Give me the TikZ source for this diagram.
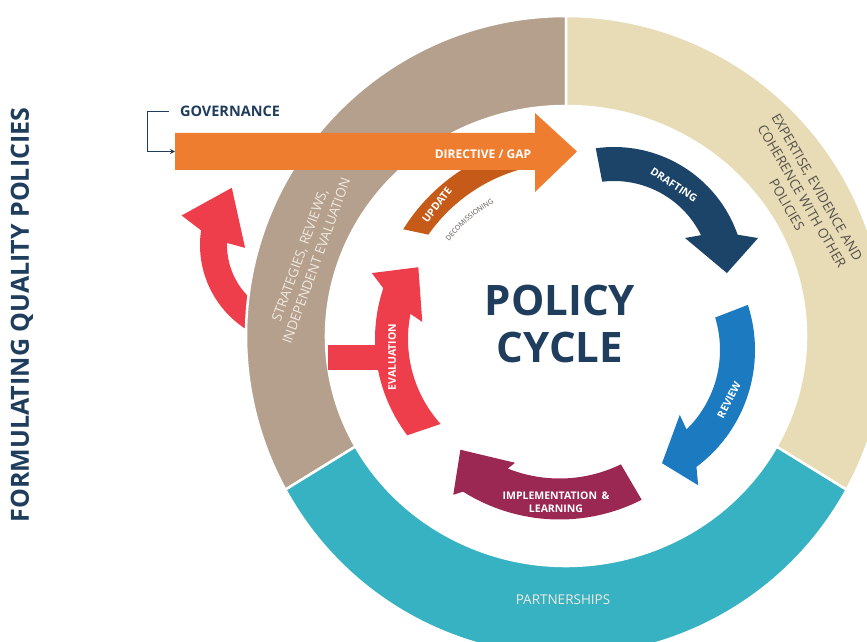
\documentclass[tikz,border=0pt]{standalone}
\usepackage{fontspec}
\setmainfont{Open Sans}
\usepackage{tikz}
\usetikzlibrary{arrows.meta,decorations.text,positioning}

\definecolor{navytxt}{HTML}{1F3D5C}
\definecolor{taupe}{HTML}{B4A08D}
\definecolor{sand}{HTML}{E8DCB6}
\definecolor{tealring}{HTML}{36B2C2}
\definecolor{orangebar}{HTML}{EE7D2F}
\definecolor{rust}{HTML}{C65B19}
\definecolor{navyarrow}{HTML}{1C4468}
\definecolor{bluearrow}{HTML}{1C7AC0}
\definecolor{maroon}{HTML}{9B2852}
\definecolor{redarrow}{HTML}{EE3E4C}
\definecolor{paletxt}{HTML}{F1EADF}
\definecolor{darktxt}{HTML}{55504A}

\begin{document}
\begin{tikzpicture}[
x=1pt, y=1pt,
font=\bfseries,
ring/.style={draw=white, line width=2.5pt},
lbl/.style={text=white, inner sep=0pt, font=\bfseries\fontsize{10.5}{12.5}\selectfont},
ringlbl/.style={inner sep=0pt, align=center, font=\fontsize{13.5}{17.5}\selectfont},
govline/.style={-{Stealth[length=5pt,width=5pt]}, draw=navytxt, line width=0.8pt}
]
    \useasboundingbox (0,0) rectangle (867,641);
    \clip (0,0) rectangle (867,641);

    \coordinate (c) at (566,305);

    % red arrow outside the ring
    \fill[redarrow, shift={(300,396)}] (245:100) arc[start angle=245, end angle=171.6, radius=100]
        -- (166:122) -- (140:89) -- (183:55) -- (178.4:73)
        arc[start angle=178.4, end angle=245, radius=73] -- cycle;

    % the ring
    \filldraw[ring, fill=taupe, shift={(c)}] (90:320) arc[start angle=90, end angle=208.7, radius=320]
        -- (208.7:240 and 230) arc[start angle=208.7, end angle=90, x radius=240, y radius=230] -- cycle;
    \filldraw[ring, fill=tealring, shift={(c)}] (208.7:320) arc[start angle=208.7, end angle=331.3, radius=320]
        -- (331.3:240 and 230) arc[start angle=331.3, end angle=208.7, x radius=240, y radius=230] -- cycle;
    \filldraw[ring, fill=sand, shift={(c)}] (-28.7:320) arc[start angle=-28.7, end angle=90, radius=320]
        -- (90:240 and 230) arc[start angle=90, end angle=-28.7, x radius=240, y radius=230] -- cycle;

    % update, under the bar
    \fill[rust, shift={(566,310)}] (148:192) arc[start angle=148, end angle=100, radius=192]
        -- (100:168) arc[start angle=100, end angle=145, radius=168] -- cycle;

    % directive / gap bar
    \fill[orangebar] (175,471) -- (535,471) -- (535,449) -- (577,489.5)
        -- (535,528) -- (535,508) -- (175,508) -- cycle;
    \coordinate (barwest) at (175,489.5);

    % cycle arrows
    \fill[navyarrow, shift={(614,363)}] (98:131) arc[start angle=98, end angle=19.3, radius=131]
        -- (15.5:149.5) -- (2.5:113) -- (29.4:81.5) -- (26.2:97)
        arc[start angle=26.2, end angle=97, radius=97] -- cycle;
    \fill[bluearrow, shift={(609,291)}] (18:146) arc[start angle=18, end angle=-53.2, radius=146]
        -- (-56.6:162) -- (-64.9:125) -- (-42.5:96) -- (-45.7:111)
        arc[start angle=-45.7, end angle=17, radius=111] -- cycle;
    \fill[maroon, shift={(559.5,302.5)}] (-63:181) arc[start angle=-63, end angle=-122.2, radius=181]
        -- (-124.2:189) -- (-131.7:149) -- (-109.7:132) -- (-111.7:140)
        arc[start angle=-111.7, end angle=-64, radius=140] -- cycle;
    \fill[redarrow] (328,271) rectangle (385,296);
    \fill[redarrow, shift={(535,302)}] (217:160) arc[start angle=217, end angle=161.5, radius=160]
        -- (158:176) -- (148.4:137) -- (171.4:114) -- (168.6:127)
        arc[start angle=168.6, end angle=222, radius=127] -- cycle;

    \path[shift={(566,310)}, decorate, decoration={text along path, text align=center,
        text={|\fontsize{7}{8}\selectfont\color{darktxt}|DECOMISSIONING}}]
        (148:147) arc[start angle=148, end angle=114, radius=147];

    % labels
    \node[lbl, rotate=52] (upd) at (437,436) {UPDATE};
    \node[lbl, font=\bfseries\fontsize{12}{14}\selectfont] (dir) at (483,487) {DIRECTIVE / GAP};
    \node[lbl, rotate=-33] (draft) at (674,456) {DRAFTING};
    \node[lbl, rotate=63] (rev) at (729,241) {REVIEW};
    \node[lbl, rotate=90] (evalu) at (392,284) {EVALUATION};
    \node[lbl, align=center] (impl) at (556,139) {IMPLEMENTATION \,\& \\ LEARNING};

    \node[text=navytxt, align=center, font=\bfseries\fontsize{42}{47}\selectfont] (cycle) at (560,317) {POLICY\\CYCLE};

    \node[ringlbl, text=paletxt, rotate=70] (strat) at (308,383) {STRATEGIES, REVIEWS,\\INDEPENDENT EVALUATION};
    \node[ringlbl, text=darktxt, rotate=-60] (expert) at (802,445) {EXPERTISE, EVIDENCE AND\\COHERENCE WITH OTHER\\POLICIES};
    \node[ringlbl, text=paletxt] (partner) at (563,41) {PARTNERSHIPS};

    \node[text=navytxt, inner sep=0pt, font=\bfseries\fontsize{14.5}{16}\selectfont] (gov) at (230,530) {GOVERNANCE};
    \draw[govline] ([xshift=-11pt]gov.west) -- ++(-21,0) |- (barwest);

    \node[text=navytxt, rotate=90, inner sep=0pt, font=\bfseries\fontsize{25}{28}\selectfont] (title) at (22,326) {FORMULATING QUALITY POLICIES};

\end{tikzpicture}
\end{document}
